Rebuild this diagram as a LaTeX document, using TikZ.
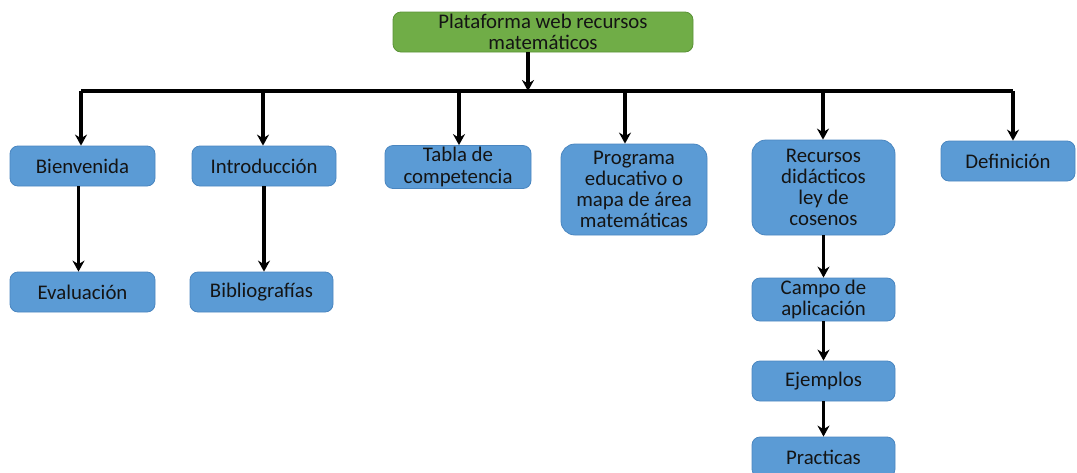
\documentclass[tikz,border=0pt]{standalone}
\usepackage{fontspec}
\setmainfont{Carlito}
\usetikzlibrary{arrows.meta}
\definecolor{boxBlue}{HTML}{5B9BD5}
\definecolor{boxBlueDk}{HTML}{4A86C0}
\definecolor{boxGreen}{HTML}{70AD47}
\definecolor{boxGreenDk}{HTML}{5A9236}

\begin{document}
\begin{tikzpicture}[
    x=0.5pt, y=-0.5pt,
    box/.style={draw=boxBlueDk, fill=boxBlue, rounded corners=4pt, thin,
        align=center, inner sep=1pt, text=black!92,
        font=\fontsize{10.4}{10.6}\selectfont},
    rootbox/.style={box, draw=boxGreenDk, fill=boxGreen},
    conn/.style={line width=1.6pt, black},
    arr/.style={conn, -{Stealth[length=5.5pt, width=6pt]}},
]
\clip (0, 0) rectangle (1077, 472);

% === Root ===
\node[rootbox, minimum width=150pt, minimum height=20pt] (root) at (543, 32)
    {Plataforma web recursos\\matemáticos};

% === First level ===
\node[box, minimum width=72.5pt, minimum height=20pt] (bien) at (82.5, 166)
    {Bienvenida};
\node[box, minimum width=72pt, minimum height=20pt] (intro) at (264, 166)
    {Introducción};
\node[box, minimum width=73pt, minimum height=21pt] (tabla) at (458, 167)
    {Tabla de\\competencia};
\node[box, minimum width=73pt, minimum height=45.5pt, rounded corners=7pt] (prog) at (634, 189.5)
    {Programa\\educativo o\\mapa de área\\matemáticas};
\node[box, minimum width=71.5pt, minimum height=47.5pt, rounded corners=7pt] (recur) at (823.5, 187.5)
    {Recursos\\didácticos\\ley de\\cosenos};
\node[box, minimum width=67pt, minimum height=20pt] (defi) at (1008, 161)
    {Definición};

% === Second level ===
\node[box, minimum width=72.5pt, minimum height=20pt] (eval) at (82.5, 292)
    {Evaluación};
\node[box, minimum width=71.5pt, minimum height=20pt] (biblio) at (261.5, 292)
    {Bibliografías};
\node[box, minimum width=71.5pt, minimum height=20.5pt] (campo) at (823.5, 299.5)
    {Campo de\\aplicación};
\node[box, minimum width=71.5pt, minimum height=20pt] (ejem) at (823.5, 381)
    {Ejemplos};
\node[box, minimum width=71.5pt, minimum height=20pt] (pract) at (823.5, 457)
    {Practicas};

% Bus taps
\coordinate (tp) at (528, 91);
\coordinate (b1) at (81, 91);
\coordinate (b2) at (263, 91);
\coordinate (b3) at (459, 91);
\coordinate (b4) at (625, 91);
\coordinate (b5) at (823, 91);
\coordinate (b6) at (1013, 91);

% Root down to the bus
\draw[arr] (tp |- root.south) -- (tp);
\draw[conn] (b1) -- (b6);

% Bus down to the first level
\draw[arr] (b1) -- (b1 |- bien.north);
\draw[arr] (b2) -- (b2 |- intro.north);
\draw[arr] (b3) -- (b3 |- tabla.north);
\draw[arr] (b4) -- (b4 |- prog.north);
\draw[arr] (b5) -- (b5 |- recur.north);
\draw[arr] (b6) -- (b6 |- defi.north);

% Second level
\draw[arr] ([xshift=-2pt]bien.south) -- ([xshift=-2pt]eval.north);
\draw[arr] (intro.south) -- (intro.south |- biblio.north);
\draw[arr] (recur.south) -- (campo.north);
\draw[arr] (campo.south) -- (ejem.north);
\draw[arr] (ejem.south) -- (pract.north);

\end{tikzpicture}
\end{document}
